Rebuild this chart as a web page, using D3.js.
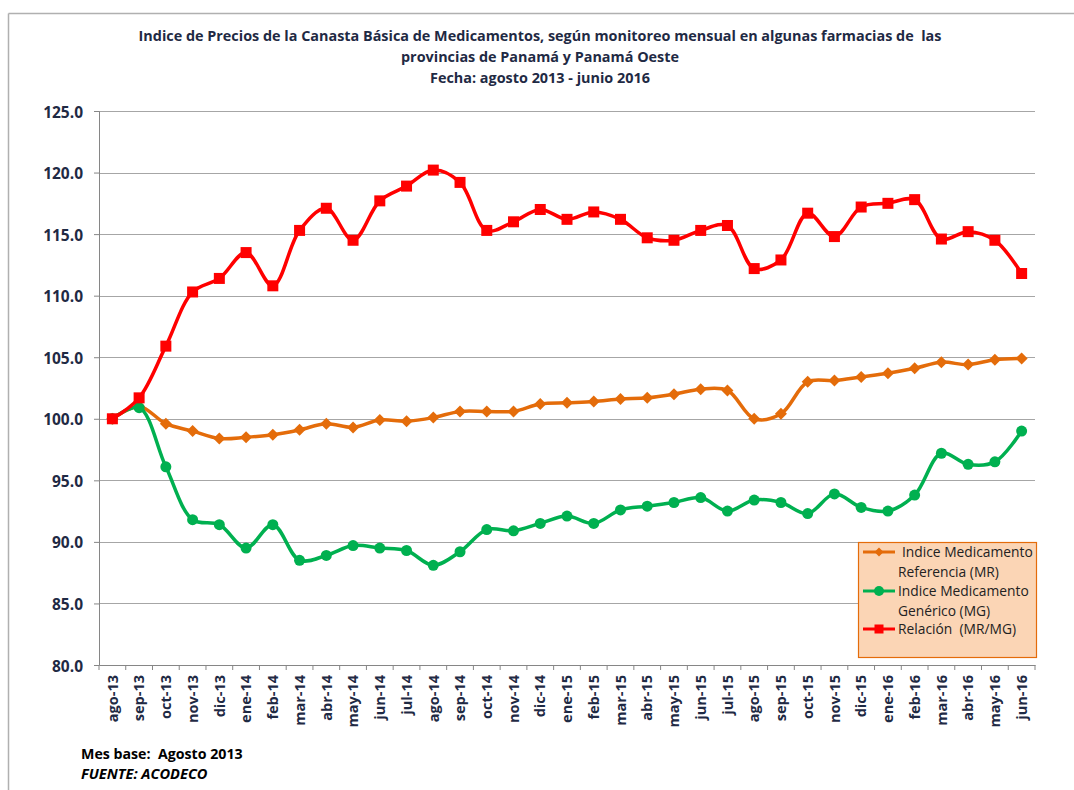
<!DOCTYPE html>
<html>
<head>
<meta charset="utf-8">
<script src="https://cdn.jsdelivr.net/npm/d3@7"></script>
<style>
  body { margin: 0; background: #fff; }
  text { font-family: "Open Sans", Lato, sans-serif; white-space: pre; }
</style>
</head>
<body>
<div id="root"></div>
<script>
const months = [
  "ago-13", "sep-13", "oct-13", "nov-13", "dic-13", "ene-14", "feb-14", "mar-14", "abr-14",
  "may-14", "jun-14", "jul-14", "ago-14", "sep-14", "oct-14", "nov-14", "dic-14", "ene-15",
  "feb-15", "mar-15", "abr-15", "may-15", "jun-15", "jul-15", "ago-15", "sep-15", "oct-15",
  "nov-15", "dic-15", "ene-16", "feb-16", "mar-16", "abr-16", "may-16", "jun-16",
];
const referencia = [
  100.0, 101.0, 99.6, 99.0, 98.4, 98.5, 98.7, 99.1, 99.6, 99.3, 99.9, 99.8, 100.1, 100.6,
  100.6, 100.6, 101.2, 101.3, 101.4, 101.6, 101.7, 102.0, 102.4, 102.3, 100.0, 100.4, 103.0,
  103.1, 103.4, 103.7, 104.1, 104.6, 104.4, 104.8, 104.9,
];
const generico = [
  100.0, 100.9, 96.1, 91.8, 91.4, 89.5, 91.4, 88.5, 88.9, 89.7, 89.5, 89.3, 88.1, 89.2,
  91.0, 90.9, 91.5, 92.1, 91.5, 92.6, 92.9, 93.2, 93.6, 92.5, 93.4, 93.2, 92.3, 93.9,
  92.8, 92.5, 93.8, 97.2, 96.3, 96.5, 99.0,
];
const relacion = [
  100.0, 101.7, 105.9, 110.3, 111.4, 113.5, 110.8, 115.3, 117.1, 114.5, 117.7, 118.9, 120.2,
  119.2, 115.3, 116.0, 117.0, 116.2, 116.8, 116.2, 114.7, 114.5, 115.3, 115.7, 112.2, 112.9,
  116.7, 114.8, 117.2, 117.5, 117.8, 114.6, 115.2, 114.5, 111.8,
];
const yTicks = [80, 85, 90, 95, 100, 105, 110, 115, 120, 125];
const titleLines = [
  "Indice de Precios de la Canasta Básica de Medicamentos, según monitoreo mensual en algunas farmacias de  las",
  "provincias de Panamá y Panamá Oeste",
  "Fecha: agosto 2013 - junio 2016",
];

const series = [
  { name: ["Indice Medicamento", "Referencia (MR)"], values: referencia, color: "#E46C0A", marker: "diamond" },
  { name: ["Indice Medicamento", "Genérico (MG)"], values: generico, color: "#00B050", marker: "circle" },
  { name: ["Relación  (MR/MG)"], values: relacion, color: "#FF0000", marker: "square" },
];

const width = 1074;
const height = 790;
const margin = { top: 111, right: 39, bottom: 125, left: 99 };
const innerWidth = width - margin.left - margin.right;
const innerHeight = height - margin.top - margin.bottom;
const textColor = "#1F2A44";
const axisColor = "#868686";
const yLabelSize = 15.5;
const xLabelSize = 14.5;

const svg = d3.select("#root")
  .append("svg")
  .attr("width", width)
  .attr("height", height)
  .attr("viewBox", `0 0 ${width} ${height}`);

// outer chart border (only top and left edges are in view)
svg.append("line")
  .attr("x1", 8.5).attr("x2", 8.5).attr("y1", 13.5).attr("y2", height)
  .attr("stroke", "#B0B0B0").attr("stroke-width", 1.5);
svg.append("line")
  .attr("x1", 8.5).attr("x2", width).attr("y1", 13.5).attr("y2", 13.5)
  .attr("stroke", "#B0B0B0").attr("stroke-width", 1.5);

// title
svg.append("g")
  .selectAll("text")
  .data(titleLines)
  .join("text")
  .text((d) => d)
  .attr("x", 540)
  .attr("y", (d, i) => 41 + i * 21)
  .attr("text-anchor", "middle")
  .attr("font-size", 14.4)
  .attr("font-weight", 700)
  .attr("fill", textColor);

// scales in page coordinates
const xScale = d3.scaleBand().domain(months).range([margin.left, width - margin.right]);
const xPoint = (i) => xScale(months[i]) + xScale.bandwidth() / 2;
const yScale = d3.scaleLinear().domain([80, 125]).range([height - margin.bottom, margin.top]);

// gridlines
svg.append("g")
  .selectAll("line")
  .data(yTicks.slice(1))
  .join("line")
  .attr("x1", margin.left)
  .attr("x2", width - margin.right)
  .attr("y1", (d) => Math.round(yScale(d)) + 0.5)
  .attr("y2", (d) => Math.round(yScale(d)) + 0.5)
  .attr("stroke", "#A6A6A6")
  .attr("stroke-width", 1.2);

// y axis
const yAxis = svg.append("g")
  .attr("transform", `translate(${margin.left}, 0)`)
  .call(d3.axisLeft(yScale).tickValues(yTicks).tickFormat("").tickSize(5));
yAxis.select(".domain").attr("stroke", axisColor);
yAxis.selectAll(".tick line").attr("stroke", axisColor);
yAxis.selectAll(".tick text").remove();
svg.append("g")
  .selectAll("text")
  .data(yTicks)
  .join("text")
  .text((d) => d3.format(".1f")(d))
  .attr("x", margin.left - 16)
  .attr("y", (d) => yScale(d) + yLabelSize * 0.36 + 1)
  .attr("text-anchor", "end")
  .attr("font-size", yLabelSize)
  .attr("font-weight", 700)
  .attr("fill", textColor);

// x axis
const baseY = height - margin.bottom;
const xAxis = svg.append("g")
  .attr("transform", `translate(0, ${baseY})`)
  .call(d3.axisBottom(xScale).tickSize(0).tickFormat(""));
xAxis.select(".domain").attr("stroke", axisColor);
xAxis.selectAll(".tick").remove();
xAxis.append("g")
  .selectAll("line")
  .data(d3.range(months.length + 1))
  .join("line")
  .attr("x1", (i) => margin.left + i * xScale.step())
  .attr("x2", (i) => margin.left + i * xScale.step())
  .attr("y1", 0)
  .attr("y2", 5)
  .attr("stroke", axisColor);
svg.append("g")
  .selectAll("text")
  .data(months)
  .join("text")
  .text((d) => d)
  .attr("transform", (d) =>
    `translate(${xScale(d) + xScale.bandwidth() / 2 + xLabelSize * 0.36}, ${baseY + 10}) rotate(-90)`)
  .attr("text-anchor", "end")
  .attr("font-size", xLabelSize)
  .attr("font-weight", 700)
  .attr("fill", textColor);

// lines
const line = d3.line()
  .x((d, i) => xPoint(i))
  .y((d) => yScale(d))
  .curve(d3.curveCatmullRom.alpha(0.5));

function drawMarker(sel, type, color, cx, cy, size) {
  if (type === "diamond") {
    sel.append("path")
      .attr("d", `M${cx},${cy - size}L${cx + size},${cy}L${cx},${cy + size}L${cx - size},${cy}Z`)
      .attr("fill", color);
  } else if (type === "circle") {
    sel.append("circle").attr("cx", cx).attr("cy", cy).attr("r", size).attr("fill", color);
  } else {
    sel.append("rect")
      .attr("x", cx - size).attr("y", cy - size)
      .attr("width", size * 2).attr("height", size * 2)
      .attr("fill", color);
  }
}

const markerSize = { diamond: 6, circle: 5.5, square: 5.5 };

series.forEach((s) => {
  const g = svg.append("g");
  g.append("path")
    .datum(s.values)
    .attr("d", line)
    .attr("fill", "none")
    .attr("stroke", s.color)
    .attr("stroke-width", 3.5);
  s.values.forEach((v, i) => drawMarker(g, s.marker, s.color, xPoint(i), yScale(v), markerSize[s.marker]));
});

// legend
const legend = svg.append("g").attr("transform", "translate(858, 542)");
legend.append("rect")
  .attr("x", 0.5).attr("y", 0.5)
  .attr("width", 178).attr("height", 115)
  .attr("fill", "#FBD5B5")
  .attr("stroke", "#E46C0A")
  .attr("stroke-width", 1.2);

const legendRows = [
  { s: series[0], y: 10 },
  { s: series[1], y: 49 },
  { s: series[2], y: 87 },
];
legendRows.forEach(({ s, y }) => {
  legend.append("line")
    .attr("x1", 5).attr("x2", 37)
    .attr("y1", y).attr("y2", y)
    .attr("stroke", s.color)
    .attr("stroke-width", 3);
  drawMarker(legend, s.marker, s.color, 21, y, s.marker === "circle" ? 5 : 4.5);
  legend.append("text")
    .selectAll("tspan")
    .data(s.name)
    .join("tspan")
    .attr("x", (d, i) => (i === 0 && s.marker === "diamond" ? 44 : 40))
    .attr("y", (d, i) => y + 5 + i * 19.5)
    .text((d) => d)
    .attr("font-size", 13.8)
    .attr("fill", "#222");
});

// footer
svg.append("text")
  .attr("x", 81).attr("y", 759)
  .text("Mes base:  Agosto 2013")
  .attr("font-size", 14.2)
  .attr("font-weight", 700)
  .attr("fill", "#000");
svg.append("text")
  .attr("x", 81).attr("y", 779)
  .text("FUENTE: ACODECO")
  .attr("font-size", 14.6)
  .attr("font-weight", 700)
  .attr("font-style", "italic")
  .attr("fill", "#000");
</script>
</body>
</html>
